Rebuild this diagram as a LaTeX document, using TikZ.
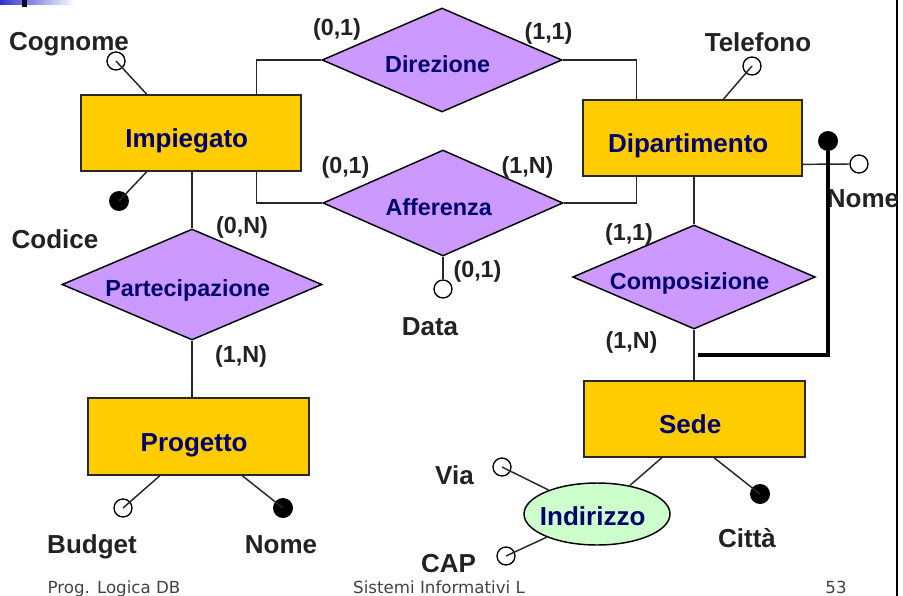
\documentclass[tikz,border=0pt]{standalone}
\usepackage{fontspec}
\setmainfont{Liberation Sans}
\newfontfamily\footfont{DejaVu Sans}
\usetikzlibrary{shapes.geometric,calc}

\definecolor{entfill}{RGB}{255,204,0}
\definecolor{relfill}{RGB}{204,153,255}
\definecolor{attrfill}{RGB}{204,255,204}
\definecolor{ernavy}{RGB}{0,0,110}
\definecolor{labgray}{RGB}{34,34,34}
\definecolor{edgegray}{RGB}{40,40,40}
\definecolor{barblue}{RGB}{51,51,204}

\begin{document}
\begin{tikzpicture}[x=0.75pt,y=-0.75pt,
  lefttext/.style={execute at begin node={\hspace*{-6.5pt}}},
  entity/.style={rectangle, draw=edgegray, line width=1.1pt, fill=entfill,
    inner sep=0pt, text=ernavy, text height=21.75pt, text depth=0pt, lefttext,
    font=\fontsize{19.5}{22}\selectfont\bfseries},
  relation/.style={diamond, draw=black, line width=1.1pt, fill=relfill,
    inner sep=0pt, text=ernavy, text height=18.5pt, text depth=0pt, lefttext,
    font=\fontsize{17.5}{20}\selectfont\bfseries},
  compattr/.style={ellipse, draw=black, line width=1.1pt, fill=attrfill,
    inner ysep=0pt, inner xsep=-6pt, text=ernavy, text height=16.5pt, text depth=0pt,
    lefttext, font=\fontsize{19.5}{22}\selectfont\bfseries},
  link/.style={draw=edgegray, line width=1.1pt},
  idline/.style={draw=black, line width=3pt},
  attr/.style={circle, draw=black, line width=1pt, minimum size=13.5pt, inner sep=0pt},
  keyattr/.style={circle, fill=black, minimum size=15pt, inner sep=0pt},
  attrlabel/.style={anchor=base, text=labgray, inner sep=0pt,
    font=\fontsize{19.5}{22}\selectfont\bfseries},
  card/.style={anchor=base, text=labgray, inner sep=0pt,
    font=\fontsize{17.5}{20}\selectfont\bfseries},
  footer/.style={anchor=base, text=labgray!85, inner sep=0pt,
    font=\footfont\fontsize{12.5}{14}\selectfont}]

\useasboundingbox (0,0) rectangle (903,596);
\fill[white] (0,0) rectangle (903,596);

% slide decoration: gradient bar, small block and right border
\shade[left color=barblue, right color=white] (0,0) rectangle (75,4);
\fill[black!85!blue] (22,0) rectangle (27,7);
\draw[black, line width=1pt] (897,0) -- (897,596);

% entities
\node[entity, minimum width=165pt, minimum height=57pt] (imp) at (191,133) {Impiegato};
\node[entity, minimum width=164.25pt, minimum height=57pt] (dip) at (692.5,138) {Dipartimento};
\node[entity, minimum width=165.75pt, minimum height=57.75pt] (prog) at (198.5,436.5) {Progetto};
\node[entity, minimum width=165.75pt, minimum height=57pt] (sede) at (694.5,419) {Sede};

% relationships
\node[relation, aspect=2.3, minimum width=180pt, minimum height=78pt] (dir) at (442,60) {Direzione};
\node[relation, aspect=2.26, minimum width=180pt, minimum height=79.5pt] (aff) at (443,203) {Afferenza};
\node[relation, aspect=2.34, minimum width=195pt, minimum height=83.25pt] (part) at (192,284.5) {Partecipazione};
\node[relation, aspect=2.34, minimum width=182pt, minimum height=78pt] (comp) at (694,277) {Composizione};

% composite attribute of Sede
\node[compattr, minimum width=109.5pt, minimum height=46.5pt] (ind) at (597,514) {Indirizzo};

% attribute markers
\node[attr] (cogc) at (116,61) {};
\node[keyattr] (codc) at (119,201) {};
\node[attr] (telc) at (752,66) {};
\node[attr] (dnomc) at (859,164) {};
\node[keyattr] (dkey) at (828,141) {};
\node[attr] (datac) at (443,289) {};
\node[attr] (budc) at (123,508) {};
\node[keyattr] (pnomc) at (283,508) {};
\node[keyattr] (citc) at (760,494) {};
\node[attr] (viac) at (502,467) {};
\node[attr] (capc) at (506,556) {};

% attribute names
\node[attrlabel] (cogl) at (69,50) {Cognome};
\node[attrlabel] (codl) at (55,248) {Codice};
\node[attrlabel] (tell) at (758,51) {Telefono};
\node[attrlabel] (dnoml) at (863,207) {Nome};
\node[attrlabel] (datal) at (430,335) {Data};
\node[attrlabel] (budl) at (92,553) {Budget};
\node[attrlabel] (pnoml) at (281,553) {Nome};
\node[attrlabel] (citl) at (747,547) {Città};
\node[attrlabel] (vial) at (454.5,484) {Via};
\node[attrlabel] (capl) at (448.5,572) {CAP};

% cardinalities
\node[card] (c1) at (337,35) {(0,1)};
\node[card] (c2) at (548.5,39) {(1,1)};
\node[card] (c3) at (345.5,173) {(0,1)};
\node[card] (c4) at (527.5,173) {(1,N)};
\node[card] (c5) at (477.5,277) {(0,1)};
\node[card] (c6) at (242,233) {(0,N)};
\node[card] (c7) at (241,362) {(1,N)};
\node[card] (c8) at (629,240) {(1,1)};
\node[card] (c9) at (631.5,348) {(1,N)};

% relationship connectors
\draw[link] (dir.west) -| ($(imp.north west)!0.795!(imp.north east)$);
\draw[link] (dir.east) -| ($(dip.north west)!0.247!(dip.north east)$);
\draw[link] (aff.west) -| ($(imp.south west)!0.795!(imp.south east)$);
\draw[link] (aff.east) -| ($(dip.south west)!0.247!(dip.south east)$);
\draw[link] (part.north |- imp.south) -- (part.north);
\draw[link] (part.south) -- (part.south |- prog.north);
\draw[link] (comp.north |- dip.south) -- (comp.north);
\draw[link] (comp.south) -- (comp.south |- sede.north);

% attribute connectors
\draw[link] ($(imp.north west)!0.3!(imp.north east)$) -- (cogc.center);
\draw[link] ($(imp.south west)!0.3!(imp.south east)$) -- (codc.center);
\draw[link] ($(dip.north west)!0.64!(dip.north east)$) -- (telc.center);
\draw[link] ($(dip.north east)!0.84!(dip.south east)$) -- (dnomc.west);
\draw[link] (aff.south) -- (datac.north);
\draw[link] ($(prog.south west)!0.326!(prog.south east)$) -- (budc.center);
\draw[link] ($(prog.south west)!0.697!(prog.south east)$) -- (pnomc.center);
\draw[link] ($(sede.south west)!0.588!(sede.south east)$) -- (citc.center);
\draw[link] ($(sede.south west)!0.353!(sede.south east)$) -- (ind);
\draw[link] (viac.center) -- (ind);
\draw[link] (capc.center) -- (ind);

% external identifier of Sede
\coordinate (idstart) at ($(comp.south)!0.5!(sede.north)$);
\draw[idline] ([xshift=2.5pt]idstart) -| (dkey.south);

% footer
\node[footer] (f1) at (114,593) {Prog. Logica DB};
\node[footer] (f2) at (439,593) {Sistemi Informativi L};
\node[footer] (f3) at (836,593) {53};
\end{tikzpicture}
\end{document}
